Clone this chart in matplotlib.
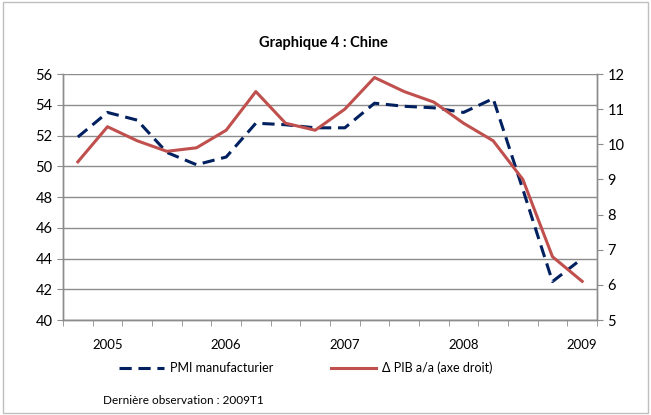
import matplotlib
matplotlib.use("Agg")
import matplotlib.pyplot as plt
from matplotlib.patches import Rectangle
import numpy as np

plt.rcParams['font.family'] = ['Lato', 'DejaVu Sans']

# quarters 2004T4 .. 2009T1
quarters = ["2004T4", "2005T1", "2005T2", "2005T3", "2005T4",
            "2006T1", "2006T2", "2006T3", "2006T4",
            "2007T1", "2007T2", "2007T3", "2007T4",
            "2008T1", "2008T2", "2008T3", "2008T4", "2009T1"]
pmi = [51.9, 53.5, 53.0, 50.9, 50.1, 50.6, 52.8, 52.7, 52.5, 52.5,
       54.1, 53.9, 53.8, 53.5, 54.4, 48.5, 42.5, 44.0]
pib = [9.5, 10.5, 10.1, 9.8, 9.9, 10.4, 11.5, 10.6, 10.4, 11.0,
       11.9, 11.5, 11.2, 10.6, 10.1, 9.0, 6.8, 6.1]
year_labels = ["2005", "2006", "2007", "2008", "2009"]
year_pos = [1, 5, 9, 13, 17]

navy = "#002060"
red = "#C0504D"
grid = "#8c8c8c"

fig = plt.figure(figsize=(6.51, 4.15), dpi=100)
fig.patches.append(Rectangle((0.004, 0.006), 0.992, 0.988, transform=fig.transFigure,
                             fill=False, edgecolor="#bfbfbf", linewidth=1))
ax = fig.add_axes([63/651, 1-320/415, (597-63)/651, (320-74)/415])
ax2 = ax.twinx()

x = np.arange(len(quarters))
l1, = ax.plot(x, pmi, color=navy, lw=2.2, dashes=(4, 2.2), label="PMI manufacturier")
l2, = ax2.plot(x, pib, color=red, lw=2.2, label="\u0394 PIB a/a (axe droit)")

ax.set_xlim(-0.5, 17.5)
ax.set_ylim(40, 56)
ax.set_yticks(np.arange(40, 57, 2))
ax2.set_ylim(5, 12)
ax2.set_yticks(np.arange(5, 13, 1))
ax.yaxis.grid(True, color=grid, lw=1)
ax.set_axisbelow(True)

ax.set_xticks(year_pos)
ax.set_xticklabels(year_labels, fontsize=9.5)
ax.set_xticks(np.arange(-0.5, 18, 1), minor=True)
ax.tick_params(axis="x", which="major", length=0, pad=14)
ax.tick_params(axis="x", which="minor", length=4, color=grid, direction="out")
ax.tick_params(axis="y", labelsize=10.5, length=4, color=grid)
ax2.tick_params(axis="y", labelsize=10.5, length=4, color=grid)

for a in (ax, ax2):
    a.spines["top"].set_visible(False)
    for s in ("left", "right", "bottom"):
        a.spines[s].set_color(grid)
        a.spines[s].set_linewidth(1)

fig.text(323/651, 1-43/415, "Graphique 4 : Chine", ha="center", va="center",
         fontsize=10.5, fontweight="bold")

fig.legend(handles=[l1, l2], loc="center", bbox_to_anchor=(306/651, 1-368/415),
           ncol=2, frameon=False, fontsize=9, handlelength=3.6, handletextpad=0.5,
           columnspacing=4.6)
fig.text(103/651, 1-400/415, "Dernière observation : 2009T1", ha="left", va="center",
         fontsize=8.5)

fig.savefig("out.png", dpi=100)
